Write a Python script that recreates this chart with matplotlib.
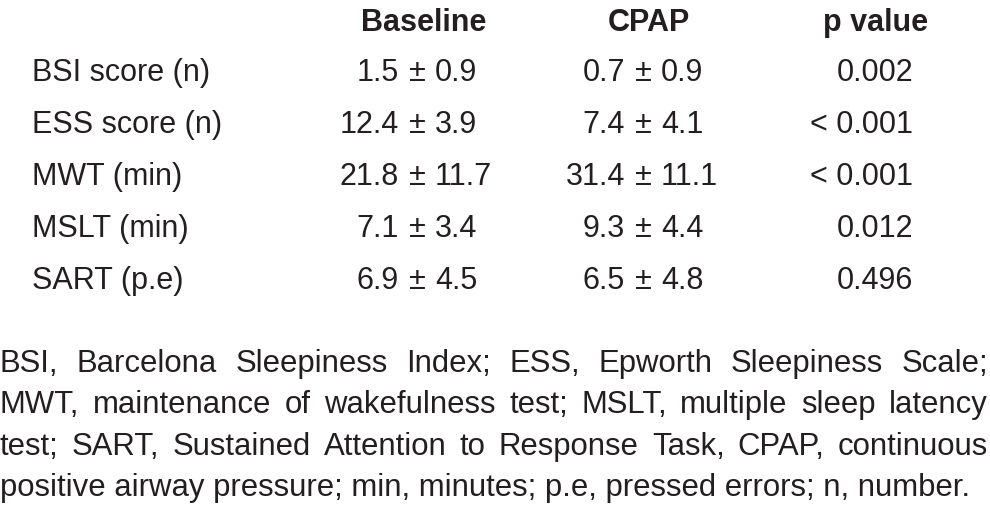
"""Table: sleepiness scores at baseline and with CPAP."""

import matplotlib
matplotlib.use("Agg")
import matplotlib.pyplot as plt

W, H = 990, 506

FONT = ["Liberation Sans", "DejaVu Sans"]
TABLE_SIZE = 22

columns = ["Baseline", "CPAP", "p value"]
row_labels = ["BSI score (n)", "ESS score (n)", "MWT (min)", "MSLT (min)", "SART (p.e)"]
baseline_mean = ["1.5", "12.4", "21.8", "7.1", "6.9"]
baseline_sd = ["0.9", "3.9", "11.7", "3.4", "4.5"]
cpap_mean = ["0.7", "7.4", "31.4", "9.3", "6.5"]
cpap_sd = ["0.9", "4.1", "11.1", "4.4", "4.8"]
p_values = ["0.002", "< 0.001", "< 0.001", "0.012", "0.496"]

note_lines = [
    "BSI, Barcelona Sleepiness Index; ESS, Epworth Sleepiness Scale;",
    "MWT, maintenance of wakefulness test; MSLT, multiple sleep latency",
    "test; SART, Sustained Attention to Response Task, CPAP, continuous",
    "positive airway pressure; min, minutes; p.e, pressed errors; n, number.",
]


def put(fig, x, y, s, **kw):
    """Place text using pixel coords measured from the top-left corner."""
    kw.setdefault("family", FONT)
    kw.setdefault("color", "#231f20")
    kw.setdefault("va", "baseline")
    return fig.text(x / W, 1 - y / H, s, **kw)


fig = plt.figure(figsize=(W / 100, H / 100), dpi=100, facecolor="white")
renderer = fig.canvas.get_renderer()

# header
header_x = [424, 649, 876]
for x, name in zip(header_x, columns):
    put(fig, x, 31, name, ha="center", fontsize=TABLE_SIZE, fontweight="bold")

# body rows, mean ± sd aligned on the ± sign
pm_x = [417, 643]
p_right = 913
row_y0, row_step = 81, 52
gap = 18
for i, label in enumerate(row_labels):
    y = row_y0 + i * row_step
    put(fig, 32, y, label, ha="left", fontsize=TABLE_SIZE)
    for x, means, sds in zip(pm_x, [baseline_mean, cpap_mean], [baseline_sd, cpap_sd]):
        put(fig, x - gap, y, means[i], ha="right", fontsize=TABLE_SIZE)
        put(fig, x, y, "\u00b1", ha="center", fontsize=TABLE_SIZE)
        put(fig, x + gap, y, sds[i], ha="left", fontsize=TABLE_SIZE)
    put(fig, p_right, y, p_values[i], ha="right", fontsize=TABLE_SIZE)

# footnote: size chosen so the last (ragged) line ends near x=968
note_left, note_right, last_right = 0, 988, 968
probe = put(fig, 0, 0, note_lines[-1], fontsize=20)
note_size = 20 * (last_right - note_left) / probe.get_window_extent(renderer).width
probe.remove()

note_y0, note_step = 372, 41.3
for j, line in enumerate(note_lines):
    y = note_y0 + j * note_step
    if j == len(note_lines) - 1:
        put(fig, note_left, y, line, ha="left", fontsize=note_size)
        continue
    # justified lines: spread the words over the full width
    words = line.split(" ")
    texts = [put(fig, 0, y, w, ha="left", fontsize=note_size) for w in words]
    widths = [t.get_window_extent(renderer).width for t in texts]
    space = (note_right - note_left - sum(widths)) / (len(words) - 1)
    x = note_left
    for t, w in zip(texts, widths):
        t.set_x(x / W)
        x += w + space

fig.savefig("out.png", dpi=100, facecolor="white")
